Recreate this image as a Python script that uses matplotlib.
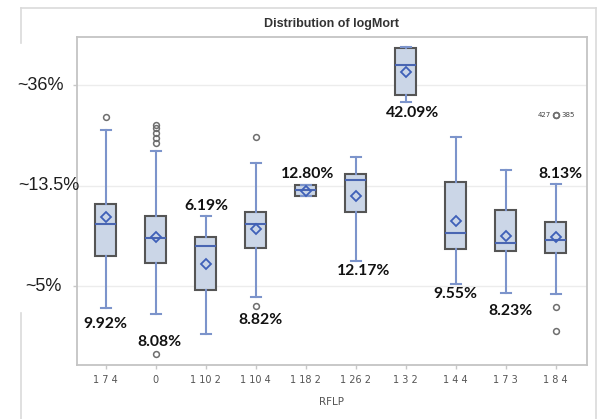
import numpy as np
import matplotlib
matplotlib.use("Agg")
import matplotlib.pyplot as plt
from matplotlib import transforms
from matplotlib.lines import Line2D

# RFLP groups and summary statistics of logMort (natural log of mortality)
categories = ["1 7 4", "0", "1 10 2", "1 10 4", "1 18 2",
              "1 26 2", "1 3 2", "1 4 4", "1 7 3", "1 8 4"]
q1 = [-2.699, -2.768, -3.040, -2.625, -2.107, -2.264, -1.100, -2.635, -2.655, -2.669]
median = [-2.386, -2.525, -2.602, -2.386, -2.048, -1.945, -0.798, -2.470, -2.569, -2.542]
q3 = [-2.181, -2.303, -2.515, -2.261, -1.991, -1.886, -0.635, -1.962, -2.244, -2.366]
whisker_low = [-3.219, -3.282, -3.481, -3.112, -2.107, -2.748, -1.172, -2.983, -3.073, -3.080]
whisker_high = [-1.448, -1.657, -2.303, -1.773, -1.991, -1.713, -0.625, -1.520, -1.846, -1.988]
mean_mortality_pct = [9.92, 8.08, 6.19, 8.82, 12.80, 12.17, 42.09, 9.55, 8.23, 8.13]
outliers = [
    [-1.321],
    [-1.398, -1.431, -1.481, -1.530, -1.574, -3.680],
    [],
    [-1.514, -3.196],
    [],
    [],
    [],
    [],
    [],
    [-1.299, -1.299, -3.212, -3.445],
]
outlier_ids = ["427", "385"]          # two observations sharing the top point of "1 8 4"
grid_values = [-1.0, -2.0, -3.0]
grid_labels = ["~36%", "~13.5%", "~5%"]

# mean of logMort shown by the diamond, from the stated mean mortality
means = [float(np.log(p / 100.0)) for p in mean_mortality_pct]

W, H = 602, 419
fig = plt.figure(figsize=(W / 100, H / 100), dpi=100)
fig.patch.set_facecolor("white")

left, right, top, bottom = 77, 587, 37, 365
ax = fig.add_axes([left / W, 1 - bottom / H, (right - left) / W, (bottom - top) / H])

stats = []
for i, name in enumerate(categories):
    stats.append(dict(label=name, q1=q1[i], med=median[i], q3=q3[i],
                      whislo=whisker_low[i], whishi=whisker_high[i],
                      mean=means[i], fliers=outliers[i]))

positions = np.arange(len(categories))
box_fill = "#cbd6e7"
ax.bxp(stats, positions=positions, widths=0.42, showmeans=True, patch_artist=True,
       showcaps=True,
       boxprops=dict(facecolor=box_fill, edgecolor="#555555", linewidth=1.5),
       medianprops=dict(color="#4a66b2", linewidth=1.5),
       whiskerprops=dict(color="#7c94cb", linewidth=1.5),
       capprops=dict(color="#7c94cb", linewidth=1.5),
       capwidths=0.2,
       meanprops=dict(marker="D", markerfacecolor="none", markeredgecolor="#3f60b8",
                      markersize=5.3, markeredgewidth=1.3),
       flierprops=dict(marker="o", markerfacecolor="none", markeredgecolor="#6e6e6e",
                       markersize=4.2, markeredgewidth=1.1))

ax.set_xlim(-0.574, 9.626)
ax.set_ylim(-3.786, -0.522)

ax.set_yticks(grid_values)
ax.set_yticklabels([])
ax.yaxis.grid(True, color="#ececec", linewidth=1.0)
ax.set_axisbelow(True)
ax.tick_params(axis="y", length=3, color="#c8c8c8", width=1)
ax.tick_params(axis="x", length=3, color="#c8c8c8", width=1, pad=4.5,
               labelsize=7, labelcolor="#555555")
ax.set_xticks(positions)
ax.set_xticklabels(categories)
for s in ax.spines.values():
    s.set_color("#c4c4c4")
    s.set_linewidth(1.3)

ax.set_xlabel("RFLP", fontsize=7.5, color="#555555", labelpad=8)
ax.set_title("Distribution of logMort", fontsize=9, fontweight="bold",
             family=["Liberation Sans", "DejaVu Sans"], color="#333333", pad=7)

# mean mortality labels
label_xy = [(0.0, -3.378), (1.07, -3.562), (2.02, -2.204), (3.1, -3.338), (4.04, -1.886),
            (5.15, -2.851), (6.14, -1.274), (7.0, -3.080), (8.1, -3.249), (9.09, -1.886)]
for (lx, ly), p in zip(label_xy, mean_mortality_pct):
    ax.text(lx, ly, f"{p:.2f}%", ha="center", va="center", fontsize=11.3,
            fontweight="bold", family=["Lato", "DejaVu Sans"], color="#111111")

# identifiers of the overlapping outliers
top_id_y = outliers[9][0]
ax.annotate(outlier_ids[0], (9, top_id_y), xytext=(-5, 0), textcoords="offset pixels",
            ha="right", va="center", fontsize=5, color="#444444")
ax.annotate(outlier_ids[1], (9, top_id_y), xytext=(6, 0), textcoords="offset pixels",
            ha="left", va="center", fontsize=5, color="#444444")

# approximate mortality on the log scale, written beside the grid lines
blend = transforms.blended_transform_factory(fig.transFigure, ax.transData)
for gx, gy, txt in zip([17, 18, 25], grid_values, grid_labels):
    ax.text(gx / W, gy, txt, transform=blend, ha="left", va="center", fontsize=13,
            family=["Liberation Sans", "DejaVu Sans"], color="#1e1e1e")

# outer graph frame
def px_line(xs, ys):
    fig.add_artist(Line2D([x / W for x in xs], [1 - y / H for y in ys],
                          transform=fig.transFigure, color="#dadada", linewidth=1.2))

px_line([20.5, 595.5], [8, 8])
px_line([595.5, 595.5], [8, 425])
px_line([20.5, 20.5], [8, 43])
px_line([20.5, 20.5], [313, 425])

fig.savefig("out.png", dpi=100)
